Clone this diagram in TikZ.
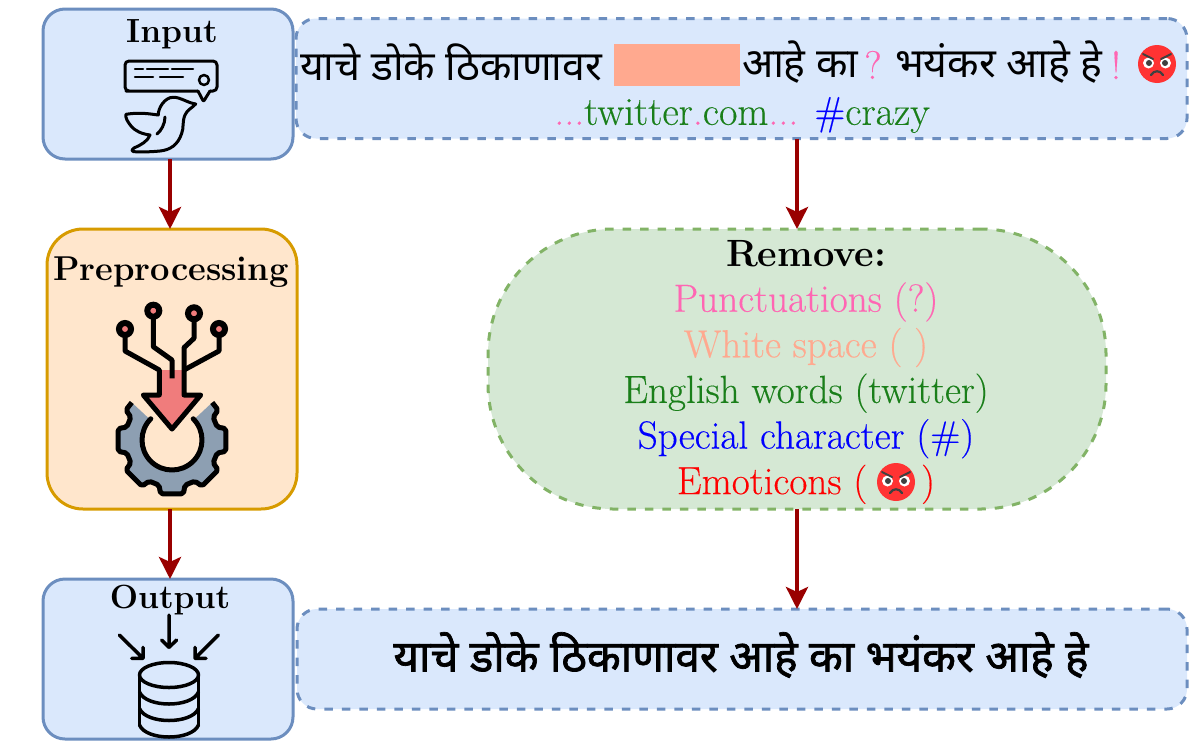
\documentclass[tikz,border=0pt]{standalone}
\usepackage{fontspec}
\usetikzlibrary{arrows.meta}
\setmainfont[UprightFeatures={FakeBold=0.3}]{Latin Modern Roman}
\newfontfamily\devfont[Script=Devanagari]{Noto Sans}
\newfontfamily\devbold[Script=Devanagari, FakeBold=1.6]{Noto Sans}
\definecolor{boxblue}{HTML}{DAE8FC}
\definecolor{lineblue}{HTML}{6C8EBF}
\definecolor{boxpeach}{HTML}{FFE6CC}
\definecolor{linepeach}{HTML}{D79B00}
\definecolor{boxgreen}{HTML}{D5E8D4}
\definecolor{linegreen}{HTML}{82B366}
\definecolor{darkred}{HTML}{990000}
\definecolor{pinktxt}{HTML}{FF66B3}
\definecolor{salmontxt}{HTML}{FFA98F}
\definecolor{greentxt}{HTML}{1A7F1A}
\definecolor{gearfill}{HTML}{8D9FB2}
\definecolor{arrowfill}{HTML}{F07C7C}
\definecolor{facered}{HTML}{FF3333}
% outer edge of the gear, from the cut on the left round to the cut on the right
\def\gearrim{(137:55pt) -- (147:55pt) -- (151:47pt)
  \foreach \a in {180,225,270,315,360} {
    -- ({\a-16}:47pt) -- ({\a-12}:55pt) -- ({\a+12}:55pt) -- ({\a+16}:47pt) }
  -- (389:47pt) -- (393:55pt) -- (403:55pt)}

\begin{document}
\begin{tikzpicture}[
  x=1pt, y=-1pt,
  every node/.style={inner sep=0pt, outer sep=0pt},
  stepbox/.style={draw=lineblue, fill=boxblue, line width=3pt, rounded corners=22pt,
    minimum width=250pt, minimum height=150pt},
  prepbox/.style={draw=linepeach, fill=boxpeach, line width=3pt, rounded corners=36pt,
    minimum width=250pt, minimum height=280pt},
  textbox/.style={draw=lineblue, fill=boxblue, line width=3pt, rounded corners=20pt,
    dash pattern=on 8.5pt off 9pt},
  removebox/.style={draw=linegreen, fill=boxgreen, line width=3pt, rounded corners=125pt,
    dash pattern=on 8.5pt off 9pt, minimum width=618pt, minimum height=280pt},
  title/.style={font=\fontsize{33.5}{40}\bfseries},
  latin/.style={font=\fontsize{40}{46}\selectfont},
  dev/.style={font=\fontsize{41}{46}\devfont},
  arrow/.style={draw=darkred, line width=4pt, -{Stealth[length=22pt, width=22pt, inset=5pt]}},
  icon/.style={draw=black, line width=3pt, line cap=round, line join=round},
  thick icon/.style={draw=black, line width=5pt, line join=round},
  angry/.pic={
    \fill[facered] (0,0) circle (19);
    \fill[white] (-8.5,-1) circle (5.5);
    \fill[white] (8.5,-1) circle (5.5);
    \fill[black!75] (-8,-1) circle (3);
    \fill[black!75] (8,-1) circle (3);
    \draw[black!75, line width=2pt, line cap=round] (-14,-10) -- (-4,-5);
    \draw[black!75, line width=2pt, line cap=round] (14,-10) -- (4,-5);
    \draw[black!75, line width=2.2pt, line cap=round] (-6,11) .. controls (-3,6) and (3,6) .. (6,11);
  }]
  \useasboundingbox (0,0) rectangle (1196,742);

  % --- the boxes ---
  \node[stepbox] (input) at (168,84) {};
  \node[prepbox] (preproc) at (172,369) {};
  \node[stepbox, minimum height=160pt] (output) at (168,659) {};
  \node[textbox, minimum width=891pt, minimum height=120pt] (inputtext) at (741.5,78.5) {};
  \node[removebox] (remove) at (797,369) {};
  \node[textbox, minimum width=890pt, minimum height=100pt] (outputtext) at (742,659) {};
  \coordinate (leftaxis) at (170,0);

  % --- titles on the left ---
  \node[title] (inputtitle) at (172,34) {Input};
  \node[title, font=\fontsize{34.5}{40}\bfseries] (preptitle) at (171,272) {Preprocessing};
  \node[title] (outputtitle) at (170,600) {Output};

  % --- tweet with its noise ---
  \node[dev, anchor=west] (tweeta) at (300,62) {याचे डोके ठिकाणावर};
  \node[fill=salmontxt, minimum width=126pt, minimum height=42pt] (blank) at (677,65) {};
  \node[dev, anchor=west] (tweetb) at (742,62) {आहे का};
  \node[latin, text=pinktxt] (qmark) at (873,65) {?};
  \node[dev, anchor=west] (tweetc) at (895,62) {भयंकर आहे हे};
  \node[latin, text=pinktxt] (bang) at (1116,65) {!};
  \pic at (1157,64) {angry};
  \node[latin] (tweetd) at (742,115) {\textcolor{pinktxt}{...}\textcolor{greentxt}{twitter}\textcolor{pinktxt}{.}\textcolor{greentxt}{com}\textcolor{pinktxt}{...} \textcolor{blue}{\#}\textcolor{greentxt}{crazy}};

  % --- what is taken out ---
  \node[align=center, font=\fontsize{39.2}{45.6}\selectfont] (removetext) at (806,372) {%
    {\fontsize{38}{45.6}\bfseries Remove:}\\
    \textcolor{pinktxt}{Punctuations (?)}\\
    \textcolor{salmontxt}{White space ( )}\\
    \textcolor{greentxt}{English words (twitter)}\\
    \textcolor{blue}{Special character (\#)}\\
    \textcolor{red}{Emoticons (\hspace{54pt})}};
  \pic at (896,482) {angry};

  % --- cleaned text ---
  \node[font=\fontsize{44}{50}\devbold] (cleantext) at (741,655) {याचे डोके ठिकाणावर आहे का भयंकर आहे हे};

  % --- arrows ---
  \draw[arrow] (input.south -| leftaxis) -- (preproc.north -| leftaxis);
  \draw[arrow] (preproc.south -| leftaxis) -- (output.north -| leftaxis);
  \draw[arrow] (inputtext.south -| remove.north) -- (remove.north);
  \draw[arrow] (remove.south) -- (outputtext.north -| remove.south);

  % --- tweet icon ---
  \draw[icon, rounded corners=4pt] (198,91) -- (130,91) -- (125,91) -- (125,61) -- (217,61) -- (217,91) -- (210,91);
  \draw[icon, rounded corners=1pt] (198,91) -- (203.5,101.5) -- (210,91);
  \draw[icon, line width=2.5pt] (135,69) -- (143,69) (147,69) -- (168,69) (172,69) -- (193,69);
  \draw[icon, line width=2.5pt] (135,77) -- (153,77) (160,77) -- (183,77);
  \draw[icon, line width=2.5pt] (204,80) circle (5);
  \draw[icon] (126,114.3) .. controls (140,112) and (150,114) .. (158.3,115)
    .. controls (158,108) and (165,97) .. (173.3,97.3)
    .. controls (180,97) and (188,103) .. (195.7,104)
    .. controls (192,108) and (187,110) .. (185,115)
    .. controls (182,122) and (184,128) .. (181.7,133.3)
    .. controls (178,145) and (170,150) .. (160,151)
    .. controls (150,152) and (142,152) .. (134,151.7)
    .. controls (131,151) and (132,149) .. (134,148)
    .. controls (141,145) and (148,141) .. (150,135)
    .. controls (142,134) and (135,131) .. (131,126)
    .. controls (128,122) and (125,118) .. (126,114.3) -- cycle;
  \draw[icon] (165,117) .. controls (165,124) and (161,131) .. (157,134);

  % --- preprocessing icon: gear, wires, arrow ---
  \begin{scope}[shift={(172,440)}]
    \fill[gearfill] \gearrim -- (43:30pt) arc[start angle=43, end angle=-223, radius=30pt] -- cycle;
    \draw[thick icon, rounded corners=2pt] \gearrim;
    \draw[thick icon, line cap=round] (135:30pt) arc[start angle=135, end angle=405, radius=30pt];
  \end{scope}
  \fill[arrowfill] (159.3,370) -- (184,370) -- (184,395) -- (200.7,395) -- (172,429) -- (143.3,395) -- (159.3,395) -- cycle;
  \draw[thick icon] (125,329) -- (125,351) -- (159.3,370) -- (159.3,395) -- (143.3,395) -- (172,429) -- (200.7,395) -- (184,395) -- (184,347.7) -- (194,338.3) -- (194,313.3);
  \draw[thick icon] (153.3,310.7) -- (153.3,346.7) -- (172,360) -- (172,378.3);
  \draw[thick icon] (219,329) -- (219,351) -- (184,370);
  \foreach \px/\py in {125/329, 153.3/310.7, 194/313.3, 219/329}
    \draw[black, line width=6pt, fill=arrowfill] (\px,\py) circle (6);

  % --- database icon with arrows ---
  \draw[icon, line width=3.5pt] (169,615) -- (169,647.3) (161.7,640) -- (169,647.3) -- (176.7,640);
  \draw[icon, line width=3.5pt] (119.3,635) -- (143,658.3) (143,647.3) -- (143,658.3) -- (131.7,658.3);
  \draw[icon, line width=3.5pt] (218.3,635) -- (195,658.3) (195,647.3) -- (195,658.3) -- (206,658.3);
  \draw[icon, line width=3.5pt] (169,675) ellipse (29.5 and 12.5);
  \draw[icon, line width=3.5pt] (139.5,675) -- (139.5,725) (198.5,675) -- (198.5,725);
  \draw[icon, line width=3.5pt] (139.5,692) .. controls (146,708) and (192,708) .. (198.5,692);
  \draw[icon, line width=3.5pt] (139.5,708.5) .. controls (146,724.5) and (192,724.5) .. (198.5,708.5);
  \draw[icon, line width=3.5pt] (139.5,725) .. controls (146,741) and (192,741) .. (198.5,725);
\end{tikzpicture}
\end{document}
